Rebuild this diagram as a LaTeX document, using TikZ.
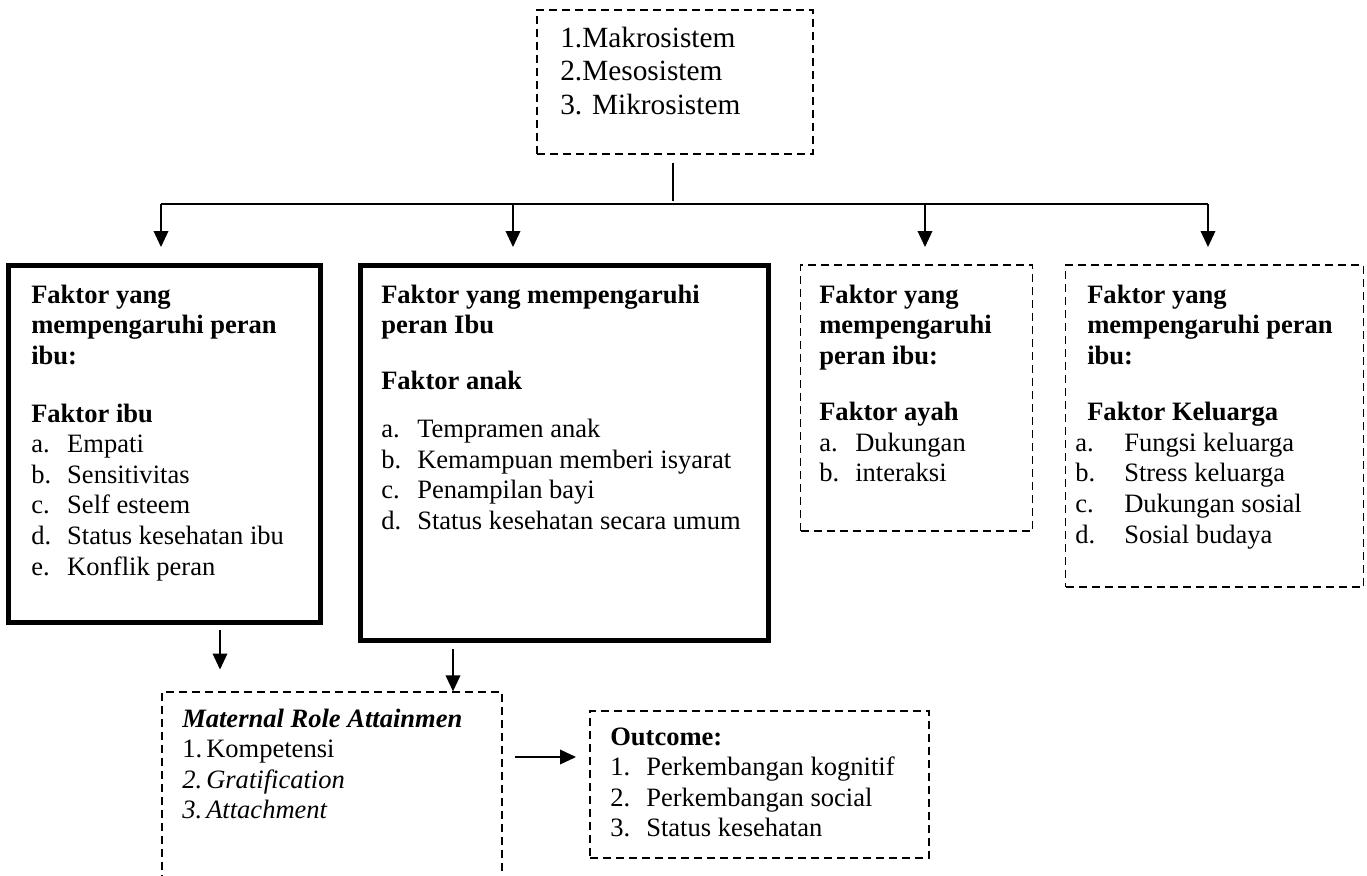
\documentclass[tikz,border=0pt]{standalone}
\usepackage{fontspec}
\setmainfont{Liberation Serif}
\usetikzlibrary{fit,arrows.meta}

\newcommand{\awal}{\rule{0pt}{16pt}}
\newcommand{\butir}[3][27pt]{\makebox[#1][l]{#2}#3}

\begin{document}
\begin{tikzpicture}[x=0.75pt,y=-0.75pt,
    tebal/.style={draw,line width=3.75pt,inner sep=0pt},
    putus/.style={draw,dash pattern=on 6pt off 3.75pt,line width=1pt,inner sep=0pt},
    teks/.style={anchor=north west,inner sep=0pt,align=left,font=\fontsize{19.9pt}{22.9pt}\selectfont},
    panah/.style={-{Triangle[width=11pt,length=12pt]},line width=1.1pt}]

    \useasboundingbox (0,0) rectangle (1367,875);

    % kotak sistem
    \coordinate (s1) at (537,10);      \coordinate (s2) at (813,154);
    \node[putus,fit=(s1)(s2)] (sistem) {};
    \node[teks,font=\fontsize{22pt}{25.1pt}\selectfont] (sistem txt) at (560,25.7)
      {\awal 1.Makrosistem\\2.Mesosistem\\3. Mikrosistem};

    % empat faktor
    \coordinate (i1) at (8.5,265.5);   \coordinate (i2) at (320.5,622);
    \coordinate (a1) at (360.5,265.5); \coordinate (a2) at (768.5,640);
    \coordinate (y1) at (800.7,265);   \coordinate (y2) at (1032.7,531);
    \coordinate (k1) at (1065.7,265);  \coordinate (k2) at (1363.3,587);
    \node[tebal,fit=(i1)(i2)] (ibu)  {};
    \node[tebal,fit=(a1)(a2)] (anak) {};
    \node[putus,fit=(y1)(y2)] (ayah) {};
    \node[putus,fit=(k1)(k2)] (kel)  {};

    \node[teks] (ibu txt) at (31,281.7)
      {\awal\textbf{Faktor yang}\\\textbf{mempengaruhi peran}\\\textbf{ibu:}\\[20.6pt]
       \textbf{Faktor ibu}\\\butir{a.}{Empati}\\\butir{b.}{Sensitivitas}\\\butir{c.}{Self esteem}\\
       \butir{d.}{Status kesehatan ibu}\\\butir{e.}{Konflik peran}};
    \node[teks] (anak txt) at (381,281.7)
      {\awal\textbf{Faktor yang mempengaruhi}\\\textbf{peran Ibu}\\[19pt]
       \textbf{Faktor anak}\\[13pt]\butir{a.}{Tempramen anak}\\\butir{b.}{Kemampuan memberi isyarat}\\
       \butir{c.}{Penampilan bayi}\\\butir{d.}{Status kesehatan secara umum}};
    \node[teks] (ayah txt) at (819,281.7)
      {\awal\textbf{Faktor yang}\\\textbf{mempengaruhi}\\\textbf{peran ibu:}\\[19.5pt]
       \textbf{Faktor ayah}\\\butir{a.}{Dukungan}\\\butir{b.}{interaksi}};
    \node[teks] (kel txt) at (1087,281.7)
      {\awal\textbf{Faktor yang}\\\textbf{mempengaruhi peran}\\\textbf{ibu:}\\[19.5pt]
       \textbf{Faktor Keluarga}\\
       \hspace*{-9pt}\butir[36.75pt]{a.}{Fungsi keluarga}\\\hspace*{-9pt}\butir[36.75pt]{b.}{Stress keluarga}\\
       \hspace*{-9pt}\butir[36.75pt]{c.}{Dukungan sosial}\\\hspace*{-9pt}\butir[36.75pt]{d.}{Sosial budaya}};

    % cabang dari kotak sistem
    \draw[line width=1.1pt] (sistem.south) ++(-2,8) -- ++(0,38);
    \foreach \x [count=\i] in {161,513,925,1208} {
      \coordinate (atas\i) at (\x,204);
      \draw[panah] (atas\i) -- ++(0,43);
    }
    \draw[line width=1.1pt] (atas1) -- (atas4);

    % attainment dan outcome
    \coordinate (m1) at (162,692);     \coordinate (m2) at (502,882);
    \coordinate (h1) at (590,711);     \coordinate (h2) at (929,858);
    \node[putus,fit=(m1)(m2)] (mra)   {};
    \node[putus,fit=(h1)(h2)] (hasil) {};

    \node[teks] (mra txt) at (182,705.7)
      {\awal\textbf{\textit{Maternal Role Attainmen}}\\\butir[18pt]{1.}{Kompetensi}\\
       \textit{\butir[18pt]{2.}{Gratification}}\\\textit{\butir[18pt]{3.}{Attachment}}};
    \node[teks] (hasil txt) at (610,723.7)
      {\awal\textbf{Outcome:}\\\butir{1.}{Perkembangan kognitif}\\\butir{2.}{Perkembangan social}\\
       \butir{3.}{Status kesehatan}};

    \draw[panah,shorten <=4pt] (ibu.south -| 220,0) -- ++(0,45);
    \draw[panah,shorten <=5pt] (anak.south -| 453,0) -- (mra.north -| 453,0);
    \draw[panah,shorten <=9pt,shorten >=10pt] (mra.east |- 0,757) -- (hasil.west |- 0,757);
\end{tikzpicture}
\end{document}
